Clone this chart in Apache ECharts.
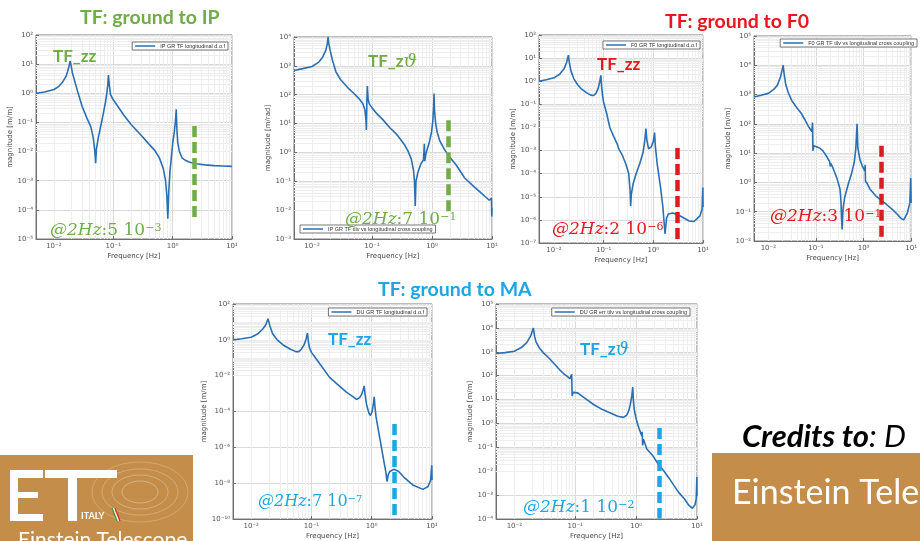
<!DOCTYPE html>
<html><head><meta charset="utf-8">
<script src="https://cdn.jsdelivr.net/npm/echarts@6/dist/echarts.min.js"></script>
<style>html,body{margin:0;padding:0;background:#fff;}#c{width:920px;height:541px;}</style>
</head><body><div id="c"></div>
<script>
// ---------------- DATA ----------------
const ipZzName = 'IP GR TF longitudinal d.o.f';
const ipZzFreq = [0.005,0.007,0.01,0.012,0.014,0.016,0.017,0.018,0.0188,0.0195,0.0205,0.022,0.025,0.03,0.036,0.042,0.046,0.049,0.0505,0.052,0.056,0.062,0.068,0.074,0.078,0.081,0.083,0.0855,0.09,0.1,0.12,0.15,0.2,0.3,0.4,0.5,0.6,0.7,0.76,0.8,0.83,0.86,0.9,0.95,1.0,1.07,1.12,1.15,1.18,1.22,1.3,1.45,1.7,2.0,2.5,3.5,5,7,10];
const ipZzMag  = [1.0,1.1,1.35,1.7,2.4,3.8,5.5,8.5,13,9,5,3,1.2,0.35,0.14,0.07,0.03,0.01,0.004,0.012,0.03,0.08,0.2,0.5,1.0,2.0,4.2,2.0,0.9,0.6,0.35,0.18,0.085,0.035,0.018,0.011,0.006,0.0025,0.001,3e-4,5e-5,4e-4,0.002,0.006,0.018,0.05,0.12,0.28,0.06,0.02,0.01,0.006,0.0048,0.0042,0.0038,0.0035,0.0033,0.0032,0.0031];

const ipZtName = 'IP GR TF tilv vs longitudinal cross coupling';
const ipZtFreq = [0.005,0.007,0.01,0.013,0.015,0.017,0.018,0.0185,0.019,0.02,0.022,0.025,0.03,0.04,0.05,0.06,0.07,0.076,0.079,0.0805,0.082,0.0835,0.086,0.09,0.1,0.12,0.15,0.2,0.25,0.3,0.35,0.4,0.45,0.49,0.51,0.525,0.54,0.58,0.65,0.72,0.745,0.755,0.8,0.9,0.98,1.03,1.065,1.08,1.1,1.15,1.22,1.35,1.6,2.0,2.5,3.5,5,7,9,9.6,9.8,9.9,10];
const ipZtMag  = [690,800,950,1350,2000,3500,6000,10000,6000,3500,1500,620,330,170,110,75,50,30,14,6,60,200,70,48,35,22,14,7,4.5,2.8,1.8,1.1,0.6,0.25,0.1,0.014,0.1,0.2,0.4,0.55,2.0,0.5,1.0,2.2,5,12,40,110,30,10,5,2.5,1.3,0.66,0.38,0.13,0.065,0.035,0.022,0.02,0.026,0.006,0.012];

const f0ZzName = 'F0 GR TF longitudinal d.o.f';
const f0ZzFreq = [0.005,0.007,0.01,0.013,0.016,0.018,0.0195,0.0205,0.022,0.025,0.03,0.035,0.045,0.055,0.063,0.07,0.078,0.084,0.088,0.091,0.095,0.1,0.115,0.133,0.16,0.19,0.2,0.21,0.24,0.28,0.32,0.34,0.35,0.36,0.39,0.45,0.53,0.62,0.67,0.71,0.74,0.8,0.9,1.0,1.06,1.1,1.2,1.4,1.55,1.72,1.85,2.0,2.5,3.4,5.3,6.6,8.7,9.6,9.9,10];
const f0ZzMag  = [1.0,1.15,1.4,2.0,3.5,6.5,13.5,6,2.8,1.3,0.7,0.48,0.32,0.25,0.24,0.3,0.5,1.0,1.8,0.6,0.25,0.12,0.04,0.01,0.004,0.0018,0.0012,0.0014,6e-4,2.6e-4,1e-4,2e-5,4e-6,1.2e-5,3.5e-5,1e-4,2.6e-4,8e-4,0.0025,0.009,0.003,0.0012,0.0014,0.0025,0.006,0.0015,2.5e-4,2.5e-5,4e-6,2.5e-7,1.2e-6,1.8e-6,2e-6,1.5e-6,9e-7,8.5e-7,1.5e-6,3e-6,2.5e-5,3.5e-6];

const f0ZtName = 'F0 GR TF tilv vs longitudinal cross coupling';
const f0ZtFreq = [0.005,0.007,0.01,0.013,0.0155,0.018,0.0195,0.0205,0.0215,0.023,0.026,0.031,0.04,0.049,0.06,0.072,0.082,0.085,0.0865,0.09,0.098,0.12,0.14,0.17,0.195,0.2,0.205,0.23,0.28,0.32,0.335,0.345,0.355,0.37,0.4,0.48,0.56,0.64,0.69,0.73,0.76,0.84,0.95,1.06,1.08,1.1,1.2,1.36,1.8,2.33,3,4,5,6.2,7,8.3,9.4,9.8,10];
const f0ZtMag  = [830,950,1100,1500,2100,4000,7000,10000,5000,2400,1200,630,350,230,130,75,55,110,12,18,20,15,12,7.5,5,3.5,4.5,3,1.3,0.6,0.25,0.06,0.025,0.12,0.3,0.9,2,5,15,100,15,6,3.5,2.5,4,1.1,0.9,0.6,0.35,0.25,0.18,0.12,0.085,0.058,0.053,0.09,0.2,1.4,0.2];

const maZzName = 'DU GR TF longitudinal d.o.f';
const maZzFreq = [0.005,0.007,0.01,0.013,0.0156,0.0175,0.019,0.0205,0.0227,0.027,0.035,0.045,0.055,0.062,0.068,0.076,0.082,0.086,0.089,0.093,0.1,0.13,0.2,0.28,0.38,0.48,0.56,0.63,0.68,0.72,0.75,0.78,0.82,0.9,0.95,1.02,1.07,1.1,1.13,1.18,1.38,1.6,1.72,1.8,1.88,2.0,2.35,2.8,3.4,4.9,7.1,8.6,9.5,9.9,10];
const maZzMag  = [1.0,1.15,1.4,2.2,4,7,15,6,2.2,1.0,0.48,0.3,0.22,0.22,0.3,0.55,1.2,2.4,0.8,0.35,0.2,0.06,0.008,0.003,0.0012,7e-4,4.7e-4,6e-4,9e-4,0.0016,0.0027,8e-4,2.5e-4,8e-5,6e-5,1e-4,3e-4,6.5e-4,2e-4,5e-5,2.5e-6,1.5e-7,4e-8,1.2e-8,3e-8,4.5e-8,6e-8,4.5e-8,2.2e-8,7.6e-9,4.5e-9,6.5e-9,1.5e-8,1e-7,1.5e-8];

const maZtName = 'DU GR err tilv vs longitudinal cross coupling';
const maZtFreq = [0.005,0.007,0.01,0.013,0.016,0.0185,0.0205,0.0215,0.0227,0.026,0.03,0.037,0.044,0.055,0.065,0.073,0.082,0.0875,0.089,0.092,0.096,0.11,0.14,0.2,0.28,0.37,0.5,0.62,0.7,0.76,0.8,0.85,0.88,0.9,0.93,0.98,1.05,1.15,1.24,1.26,1.28,1.32,1.5,1.9,2.3,2.8,3.5,4.2,5,6.2,7.3,8.4,9.3,9.7,9.95,10];
const maZtMag  = [850,920,1050,1500,2400,4500,10000,4500,2600,1400,900,550,340,180,120,96,75,115,14,20,22,19,12,6.2,3.8,2.8,2.0,1.8,2.2,3.5,6,14,33,10,4,2,1.0,0.5,0.3,0.45,0.12,0.22,0.085,0.043,0.02,0.011,0.005,0.0025,0.0013,7e-4,3.8e-4,2.8e-4,4e-4,7e-4,0.0057,9e-4];

// dashed "@2Hz" markers: frequency, top and bottom magnitude
const markerFreq   = [2.3, 1.85, 3.1, 2.4, 2.35, 2.37];
const markerTop    = [0.075, 13, 1.3e-3, 18, 2e-5, 0.65];
const markerBottom = [4.5e-5, 0.008, 1.05e-7, 0.013, 1.4e-10, 1.05e-4];

// axis ranges
const xRange = [0.005, 10];
const yRanges = [[1e-5,1e2],[1e-3,1e4],[1e-7,1e2],[1e-2,1e5],[1e-10,1e2],[1e-4,1e5]];

// ---------------- STYLE / LAYOUT ----------------
const GREEN = '#70ad47', RED = '#e8161e', BLUE = '#1ba7e3', LINE = '#2b6fb3', BROWN = '#c48e4a';
const panels = [
  {name: ipZzName, f: ipZzFreq, m: ipZzMag, grid:{left:36,top:35,width:196,height:204}, yname:'magnitude [m/m]', color:GREEN, legend:{right:692, top:42}},
  {name: ipZtName, f: ipZtFreq, m: ipZtMag, grid:{left:294,top:37,width:198,height:202}, yname:'magnitude [m/rad]', color:GREEN, legend:{left:300, top:225}},
  {name: f0ZzName, f: f0ZzFreq, m: f0ZzMag, grid:{left:539,top:35,width:164,height:208}, yname:'magnitude [m/m]', color:RED, legend:{right:220, top:41}},
  {name: f0ZtName, f: f0ZtFreq, m: f0ZtMag, grid:{left:754,top:36,width:164,height:205}, yname:'magnitude [m/m]', color:RED, legend:{right:3, top:39}},
  {name: maZzName, f: maZzFreq, m: maZzMag, grid:{left:233,top:304,width:199,height:215}, yname:'magnitude [m/m]', color:BLUE, legend:{right:493, top:308}, logBase:100},
  {name: maZtName, f: maZtFreq, m: maZtMag, grid:{left:496,top:304,width:201,height:215}, yname:'magnitude [m/m]', color:BLUE, legend:{right:230, top:308}}
];

const SUP = {'0':'⁰','1':'¹','2':'²','3':'³','4':'⁴','5':'⁵','6':'⁶','7':'⁷','8':'⁸','9':'⁹','-':'⁻'};
function powLabel(v){
  const e = Math.log10(v), r = Math.round(e);
  if (Math.abs(e - r) > 1e-6) return '';
  return '10' + String(r).split('').map(c => SUP[c]).join('');
}
function minorVals(lo, hi, oddDecades){
  const out = [];
  for (let k = Math.floor(Math.log10(lo)) - 1; k <= Math.ceil(Math.log10(hi)); k++){
    for (let mm = 1; mm <= 9; mm++){
      if (mm === 1 && !(oddDecades && k % 2 !== 0)) continue;
      const v = mm * Math.pow(10, k);
      if (v > lo * 1.0001 && v < hi * 0.9999) out.push(v);
    }
  }
  return out;
}

const grid = [], xAxis = [], yAxis = [], series = [], legend = [];
panels.forEach((p, i) => {
  grid.push(Object.assign({show:true, backgroundColor:'#fff', borderColor:'#7a7a7a', borderWidth:1}, p.grid));
  const axisCommon = {
    axisLine:{show:true, lineStyle:{color:'#6f6f6f', width:1}},
    axisTick:{show:true, inside:true, length:3, lineStyle:{color:'#6f6f6f'}},
    splitLine:{show:true, lineStyle:{color:'#d9d9d9', width:1}},
    axisLabel:{fontSize:7, color:'#555', fontFamily:'DejaVu Sans', formatter: powLabel, hideOverlap:false},
    nameTextStyle:{fontSize:7, color:'#444', fontFamily:'DejaVu Sans'}
  };
  xAxis.push(Object.assign({}, axisCommon, {
    type:'log', gridIndex:i, min:xRange[0], max:xRange[1], logBase:10,
    name:'Frequency [Hz]', nameLocation:'middle', nameGap:14,
    axisLabel:Object.assign({}, axisCommon.axisLabel, {margin:4})
  }));
  yAxis.push(Object.assign({}, axisCommon, {
    type:'log', gridIndex:i, min:yRanges[i][0], max:yRanges[i][1], logBase:p.logBase || 10,
    name:p.yname, nameLocation:'middle', nameGap:16,
    axisLabel:Object.assign({}, axisCommon.axisLabel, {margin:3})
  }));
  const xs = minorVals(xRange[0], xRange[1], false);
  const ys = minorVals(yRanges[i][0], yRanges[i][1], !!p.logBase);
  series.push({
    type:'line', xAxisIndex:i, yAxisIndex:i, data:[], silent:true, z:1,
    markLine:{silent:true, z:1, symbol:['none','none'], animation:false, label:{show:false},
      lineStyle:{color:'#eeeeee', width:1, type:'solid'},
      emphasis:{disabled:true},
      data: xs.map(v => ({xAxis:v})).concat(ys.map(v => ({yAxis:v})))}
  });
  series.push({
    name:p.name, type:'line', xAxisIndex:i, yAxisIndex:i, showSymbol:false, z:3,
    lineStyle:{color:LINE, width:1.6}, itemStyle:{color:LINE}, animation:false,
    data: p.f.map((f, j) => [f, p.m[j]]),
    markLine:{silent:true, z:6, symbol:['none','none'], animation:false, label:{show:false},
      emphasis:{disabled:true},
      lineStyle:{color:p.color, width:4.5, type:[11,5]},
      data:[[{coord:[markerFreq[i], markerTop[i]]}, {coord:[markerFreq[i], markerBottom[i]]}]]}
  });
  legend.push(Object.assign({
    data:[p.name], orient:'horizontal', icon:'rect', itemWidth:20, itemHeight:1.5, z:8,
    padding:[1,3,1,3], borderColor:'#555', borderWidth:0.8, backgroundColor:'#fff',
    textStyle:{fontSize:5.5, color:'#333', fontFamily:'Liberation Sans'},
    selectedMode:false
  }, p.legend));
});

function tfLabel(x, y, color, theta){
  const rich = {a:{fontFamily:'Lato', fontWeight:'bold', fontSize:17, fill:color},
                t:{fontFamily:'DejaVu Serif', fontStyle:'italic', fontSize:19, fill:color}};
  return {type:'text', x:x, y:y, z:100, style:{text: theta ? '{a|TF_z}{t|ϑ}' : '{a|TF_zz}', rich:rich, verticalAlign:'middle', align:'left'}};
}
function hzLabel(x, y, mant, exp, color, size){
  size = size || 17;
  const rich = {i:{fontFamily:'DejaVu Serif', fontStyle:'italic', fontSize:size, fill:color},
                n:{fontFamily:'DejaVu Serif', fontSize:size, fill:color},
                s:{fontFamily:'DejaVu Serif', fontSize:Math.round(size*0.64), fill:color, verticalAlign:'top'}};
  return {type:'text', x:x, y:y, z:100, style:{text:'{i|@2Hz}{n|:' + mant + ' 10}{s|−' + exp + '}', rich:rich, verticalAlign:'middle', align:'left'}};
}
function title(x, y, text, color){
  return {type:'text', x:x, y:y, z:100, style:{text:text, font:'bold 19.5px Lato', fill:color, verticalAlign:'middle', align:'left'}};
}

const graphic = [
  title(80, 18, 'TF: ground to IP', GREEN),
  title(665, 22, 'TF: ground to F0', RED),
  title(378, 290, 'TF: ground to MA', BLUE),
  tfLabel(53, 57, GREEN, false),
  hzLabel(50, 231, '5', '3', GREEN),
  tfLabel(368, 62, GREEN, true),
  hzLabel(345, 220, '7', '1', GREEN),
  tfLabel(597, 65, RED, false),
  hzLabel(552, 230, '2', '6', RED),
  hzLabel(770, 217, '3', '1', RED),
  tfLabel(328, 340, BLUE, false),
  hzLabel(258, 502, '7', '7', BLUE, 16),
  tfLabel(580, 350, BLUE, true),
  hzLabel(523, 508, '1', '2', BLUE),
  // left logo box
  {type:'rect', z:50, shape:{x:0, y:455, width:193, height:86}, style:{fill:BROWN}},
  {type:'ellipse', z:51, shape:{cx:140, cy:492, rx:48, ry:30}, style:{fill:'none', stroke:'rgba(255,255,255,0.22)', lineWidth:1}},
  {type:'ellipse', z:51, shape:{cx:140, cy:492, rx:38, ry:23}, style:{fill:'none', stroke:'rgba(255,255,255,0.25)', lineWidth:1}},
  {type:'ellipse', z:51, shape:{cx:140, cy:492, rx:28, ry:17}, style:{fill:'none', stroke:'rgba(255,255,255,0.28)', lineWidth:1}},
  {type:'ellipse', z:51, shape:{cx:140, cy:492, rx:18, ry:11}, style:{fill:'none', stroke:'rgba(255,255,255,0.3)', lineWidth:1}},
  {type:'rect', z:52, shape:{x:10, y:470, width:8, height:51}, style:{fill:'#fff'}},
  {type:'rect', z:52, shape:{x:10, y:470, width:33, height:8}, style:{fill:'#fff'}},
  {type:'rect', z:52, shape:{x:10, y:492, width:28, height:6}, style:{fill:'#fff'}},
  {type:'rect', z:52, shape:{x:10, y:514, width:33, height:7}, style:{fill:'#fff'}},
  {type:'rect', z:52, shape:{x:45, y:470, width:72, height:8}, style:{fill:'#fff'}},
  {type:'rect', z:52, shape:{x:68, y:470, width:9, height:51}, style:{fill:'#fff'}},
  {type:'text', z:52, x:81, y:516, style:{text:'ITALY', font:'bold 9px Lato', fill:'#fff', verticalAlign:'middle'}},
  {type:'line', z:52, shape:{x1:112, y1:508, x2:117, y2:521}, style:{stroke:'#2e9e3e', lineWidth:1.2}},
  {type:'line', z:52, shape:{x1:113.5, y1:508, x2:118.5, y2:521}, style:{stroke:'#fff', lineWidth:1.2}},
  {type:'line', z:52, shape:{x1:115, y1:508, x2:120, y2:521}, style:{stroke:'#d32a2a', lineWidth:1.2}},
  {type:'text', z:52, x:18, y:530, style:{text:'Einstein Telescope', font:'21px Lato', fill:'#fff', verticalAlign:'top'}},
  // right box
  {type:'rect', z:50, shape:{x:712, y:453, width:208, height:88}, style:{fill:BROWN}},
  {type:'text', z:52, x:732, y:493, style:{text:'Einstein Telescope', font:'34px Lato', fill:'#fff', verticalAlign:'middle'}},
  {type:'text', z:52, x:742, y:437, style:{text:'{b|Credits to}{n|: D}', verticalAlign:'middle',
     rich:{b:{fontFamily:'Lato', fontWeight:'bold', fontStyle:'italic', fontSize:31, fill:'#000'},
           n:{fontFamily:'Lato', fontStyle:'italic', fontSize:31, fill:'#000'}}}}
];

const chart = echarts.init(document.getElementById('c'), null, {renderer:'canvas'});
chart.setOption({
  backgroundColor:'#fff', animation:false,
  grid, xAxis, yAxis, series, legend, graphic
});
</script>
</body></html>
